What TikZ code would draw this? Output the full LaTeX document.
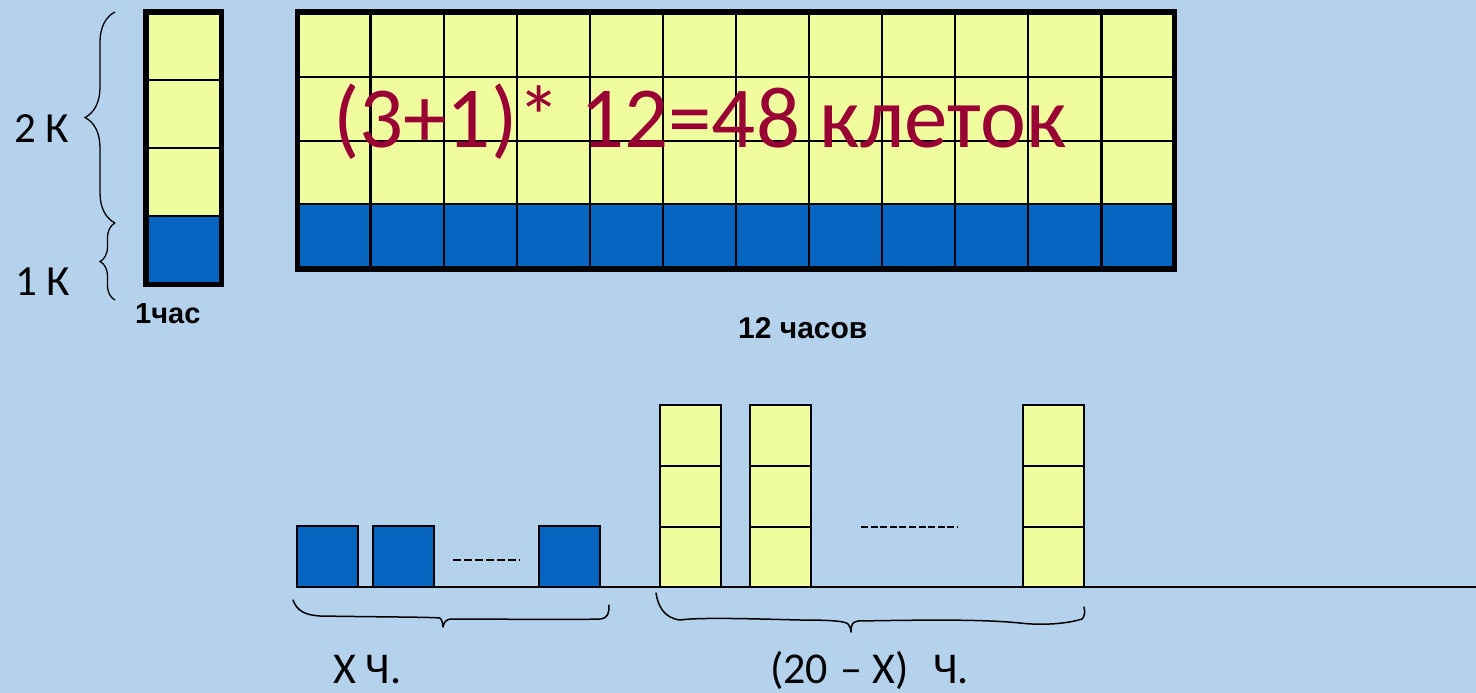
\documentclass[tikz,border=0pt]{standalone}
\usepackage{fontspec}
\setmainfont{Carlito}
\newfontfamily\arialf{Liberation Sans}
\usetikzlibrary{decorations.pathreplacing}
\definecolor{bg}{HTML}{B5D2EC}
\definecolor{cyel}{HTML}{EFFD9F}
\definecolor{cblue}{HTML}{0565C0}
\definecolor{cred}{HTML}{990033}
\tikzset{
  gridline/.style={line width=2.2pt, black},
  frame/.style={line width=5.5pt, black},
  cellbox/.style={line width=2pt, black},
  lbl/.style={anchor=base west, inner sep=0pt},
  bracebig/.style={decorate, decoration={brace, amplitude=#1}, line width=1.3pt},
  hand/.style={line width=1.5pt, line cap=round, line join=round},
}
\begin{document}
\begin{tikzpicture}[x=1pt,y=-1pt]
\fill[bg] (0,0) rectangle (1476,693);
\useasboundingbox (0,0) rectangle (1476,693);

% small column (1 hour)
\fill[cyel] (146,12) rectangle (221.5,216);
\fill[cblue] (146,216) rectangle (221.5,284.5);
\foreach \y in {80,148,216} \draw[gridline] (146,\y) -- (221.5,\y);
\draw[frame] (146,12) rectangle (221.5,284.5);

% big grid (12 hours)
\fill[cyel] (297.5,12) rectangle (1174.5,204);
\fill[cblue] (297.5,204) rectangle (1174.5,269);
\foreach \i in {1,...,11} \draw[gridline] ({297.5+\i*73.083},12) -- ({297.5+\i*73.083},269);
\foreach \y in {77,141,204} \draw[gridline] (297.5,\y) -- (1174.5,\y);
\draw[frame] (297.5,12) rectangle (1174.5,269);

\node[lbl, text=cred, font=\fontsize{87}{90}\selectfont] (formula) at (333,147) {(3+1)* 12=48 клеток};

% left labels and braces
\draw[bracebig=30pt] (115,223) -- (115,12);
\draw[bracebig=15pt] (115,300) -- (115,223);
\node[lbl, font=\fontsize{43}{46}\selectfont] (twok) at (14,142) {2 К};
\node[lbl, font=\fontsize{43}{46}\selectfont] (onek) at (15,295) {1 К};
\node[lbl, font=\arialf\bfseries\fontsize{29}{32}\selectfont] (onehour) at (135,323) {1час};
\node[lbl, font=\arialf\bfseries\fontsize{30}{33}\selectfont] (twelve) at (738,338) {12 часов};

% bottom: blue squares
\foreach \x in {297,373,539} \draw[cellbox, fill=cblue] (\x,526) rectangle (\x+61,587);
\draw[line width=1.8pt, dash pattern=on 8pt off 3pt] (453,560) -- (520,560);

% bottom: yellow columns
\foreach \x in {660,750,1023} {
  \draw[cellbox, fill=cyel] (\x,405) rectangle (\x+61,587);
  \draw[cellbox] (\x,466) -- (\x+61,466);
  \draw[cellbox] (\x,527) -- (\x+61,527);
}
\draw[line width=1.3pt, dash pattern=on 7pt off 2.6pt] (861,527) -- (958,527);

% base line
\draw[line width=2.5pt] (297,587) -- (1476,587);

% hand drawn braces
\draw[hand] (293,600) .. controls (297,611) and (305,615) .. (320,616)
  .. controls (380,617) and (430,617) .. (440,618)
  .. controls (442,620) and (443,624) .. (443,627)
  .. controls (444,622) and (446,620) .. (450,619)
  .. controls (500,619) and (570,620) .. (600,619)
  .. controls (608,618) and (609,614) .. (609,605);
\draw[hand] (656,593) .. controls (658,606) and (664,618) .. (680,620)
  .. controls (700,617) and (760,619) .. (800,620)
  .. controls (830,620) and (845,621) .. (848,624)
  .. controls (850,626) and (851,629) .. (851,632)
  .. controls (851,625) and (852,622) .. (858,621)
  .. controls (920,620) and (980,619) .. (1020,623)
  .. controls (1045,626) and (1070,623) .. (1082,619)
  .. controls (1085,616) and (1085,612) .. (1084,607);

\node[lbl, font=\fontsize{44}{48}\selectfont] (xh) at (333,683) {Х Ч.};
\node[lbl, font=\fontsize{44}{48}\selectfont] (restx) at (770,683) {(20\hspace{2pt} –\hspace{1pt} Х)\hspace{24pt}Ч.};
\end{tikzpicture}
\end{document}
